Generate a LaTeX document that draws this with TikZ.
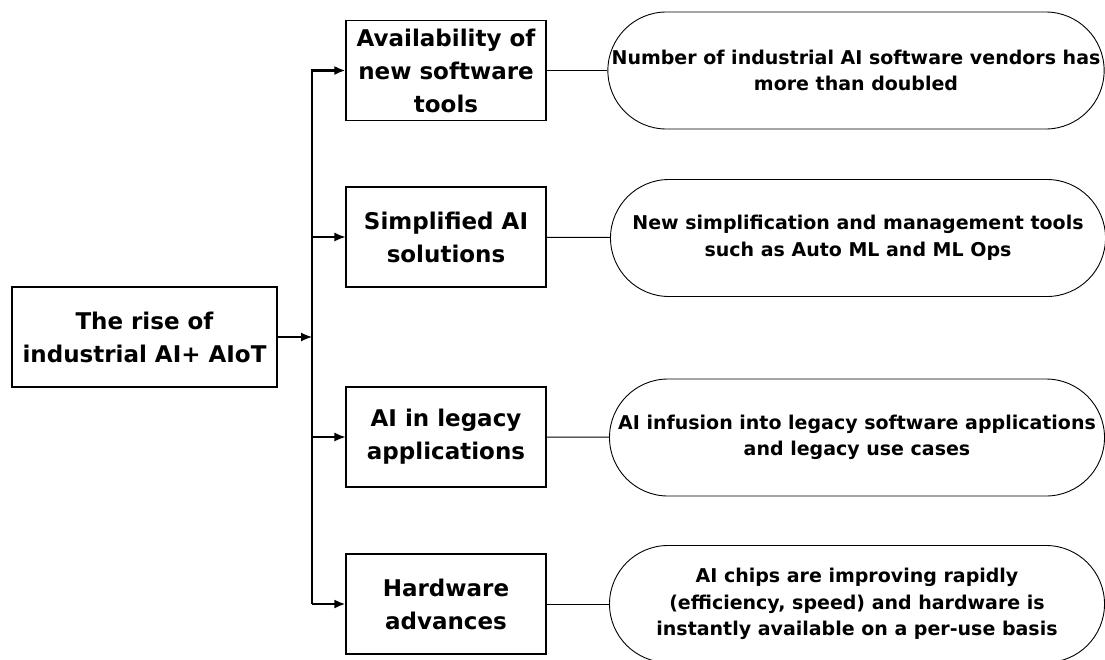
\documentclass[tikz,border=0pt]{standalone}
\usepackage{fontspec}
\setmainfont{DejaVu Sans}
\usetikzlibrary{arrows.meta,shapes.misc}

\begin{document}
\begin{tikzpicture}[x=1pt,y=-1pt,
    cause/.style={draw, line width=1.1pt, minimum width=200pt, minimum height=100pt,
      inner sep=0pt, align=center, font=\bfseries\fontsize{23}{33}\selectfont},
    effect/.style={draw, line width=0.9pt, rounded rectangle, minimum width=495pt,
      minimum height=117pt, inner sep=0pt, align=center,
      font=\bfseries\fontsize{19}{26.5}\selectfont},
    feed/.style={-{Latex[length=11pt,width=9pt]}, line width=1.2pt},
    trunkline/.style={line width=2.2pt}]
      \useasboundingbox (0,0) rectangle (1105,659);
      \node[cause, minimum width=265pt] (rise) at (144.5,337) {The rise of\\industrial AI+ AIoT};
      \node[cause] (tools) at (446,70.5) {Availability of\\new software\\tools};
      \node[cause] (simple) at (446,237) {Simplified AI\\solutions};
      \node[cause] (legacy) at (446,437) {AI in legacy\\applications};
      \node[cause] (hardware) at (446,604) {Hardware\\advances};
      \node[effect] (vendors) at (856,70.5) {Number of industrial AI software vendors has\\more than doubled};
      \node[effect] (mlops) at (858,238) {New simplification and management tools\\such as Auto ML and ML Ops};
      \node[effect] (infusion) at (857,437.5) {AI infusion into legacy software applications\\and legacy use cases};
      \node[effect] (chips) at (857,604) {AI chips are improving rapidly\\(efficiency, speed) and hardware is\\instantly available on a per-use basis};
      \coordinate (trunk) at (312,604);
      \draw[feed, trunkline] (trunk) |- (tools.west);
      \draw[feed, trunkline] (trunk) -- (hardware.west);
      \draw[feed] (simple.west -| trunk) -- (simple.west);
      \draw[feed] (legacy.west -| trunk) -- (legacy.west);
      \draw[feed] (rise.east) -- (rise.east -| trunk);
      \draw[line width=1pt] (tools) -- (vendors);
      \draw[line width=1pt] (simple) -- (mlops);
      \draw[line width=1pt] (legacy) -- (infusion);
      \draw[line width=1pt] (hardware) -- (chips);
    \end{tikzpicture}
\end{document}
